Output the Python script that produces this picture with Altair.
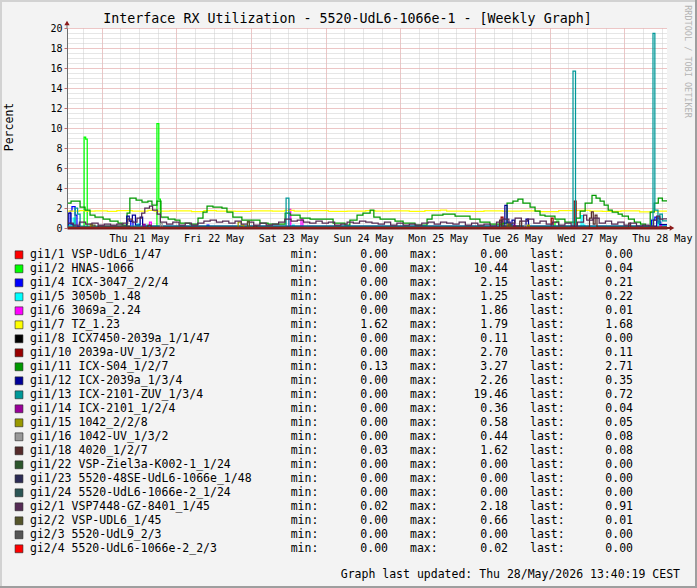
import altair as alt
import pandas as pd
from datetime import datetime, timedelta, timezone

# ---------------- texts ----------------
TITLE = "Interface RX Utilization - 5520-UdL6-1066e-1 - [Weekly Graph]"
UPDATED = "Graph last updated: Thu 28/May/2026 13:40:19 CEST"
WATERMARK = "RRDTOOL / TOBI OETIKER"
Y_TITLE = "Percent"

# ---------------- time frame ----------------
START = "2026-05-20T12:52:00"
END_H = 192.8  # hours shown (until Thu 28 May 13:40)
DAYS = ["2026-05-21", "2026-05-22", "2026-05-23", "2026-05-24",
        "2026-05-25", "2026-05-26", "2026-05-27", "2026-05-28"]
Y_MAJOR = [0, 2, 4, 6, 8, 10, 12, 14, 16, 18, 20]
Y_MINOR = [i * 0.5 for i in range(41)]

# ---------------- legend ----------------
LABELS = ["gi1/1 VSP-UdL6_1/47", "gi1/2 HNAS-1066", "gi1/4 ICX-3047_2/2/4",
          "gi1/5 3050b_1.48", "gi1/6 3069a_2.24", "gi1/7 TZ_1.23",
          "gi1/8 ICX7450-2039a_1/1/47", "gi1/10 2039a-UV_1/3/2", "gi1/11 ICX-S04_1/2/7",
          "gi1/12 ICX-2039a_1/3/4", "gi1/13 ICX-2101-ZUV_1/3/4", "gi1/14 ICX-2101_1/2/4",
          "gi1/15 1042_2/2/8", "gi1/16 1042-UV_1/3/2", "gi1/18 4020_1/2/7",
          "gi1/22 VSP-Ziel3a-K002-1_1/24", "gi1/23 5520-48SE-UdL6-1066e_1/48",
          "gi1/24 5520-UdL6-1066e-2_1/24", "gi2/1 VSP7448-GZ-8401_1/45",
          "gi2/2 VSP-UDL6_1/45", "gi2/3 5520-UdL9_2/3", "gi2/4 5520-UdL6-1066e-2_2/3"]
COLORS = ["#FF0000", "#00FF00", "#0000FF", "#00FFFF", "#FF00FF", "#FFFF00",
          "#000000", "#990000", "#009900", "#000099", "#009999", "#990099",
          "#999900", "#999999", "#552B2B", "#2B552B", "#2B2B55", "#2B5555",
          "#552B55", "#55552B", "#555555", "#FF0000"]
MINS = [0.00, 0.00, 0.00, 0.00, 0.00, 1.62, 0.00, 0.00, 0.13, 0.00, 0.00,
        0.00, 0.00, 0.00, 0.03, 0.00, 0.00, 0.00, 0.02, 0.00, 0.00, 0.00]
MAXS = [0.00, 10.44, 2.15, 1.25, 1.86, 1.79, 0.11, 2.70, 3.27, 2.26, 19.46,
        0.36, 0.58, 0.44, 1.62, 0.00, 0.00, 0.00, 2.18, 0.66, 0.00, 0.02]
LASTS = [0.00, 0.04, 0.21, 0.22, 0.01, 1.68, 0.00, 0.11, 2.71, 0.35, 0.72,
         0.04, 0.05, 0.08, 0.08, 0.00, 0.00, 0.00, 0.91, 0.01, 0.00, 0.00]

# ---------------- series: (hours since start, value) change points ----------------
GI1_1 = [(0, 0.0), (192.8, 0.0)]
GI1_2 = [(0, 0.05), (5.5, 9.1), (6.0, 8.9), (6.5, 0.05), (28.9, 10.44), (29.5, 2.9),
         (30.0, 0.05), (156.8, 0.6), (157.4, 0.7), (158.0, 0.05), (191.0, 0.04), (192.8, 0.04)]
GI1_4 = [(0, 0.4), (1.0, 1.7), (1.6, 2.15), (2.6, 1.3), (3.2, 0.2), (4.0, 0.05),
         (20.5, 0.7), (21.2, 0.1), (45.0, 0.3), (45.6, 0.05), (141.8, 0.6), (142.4, 0.05),
         (187.8, 0.8), (188.9, 1.1), (189.9, 0.6), (190.8, 0.21), (192.8, 0.21)]
GI1_5 = [(0, 0.3), (2.0, 1.0), (2.5, 0.2), (3.0, 0.05), (22.5, 0.4), (23.2, 0.05),
         (25.0, 0.3), (25.6, 0.05), (72.5, 0.3), (73.0, 0.05), (143.0, 0.3), (143.6, 0.05),
         (165.2, 1.25), (165.8, 0.3), (166.4, 0.05), (190.0, 0.5), (190.6, 0.22), (192.8, 0.22)]
GI1_6 = [(0, 0.05), (26.5, 0.6), (27.1, 0.05), (71.3, 1.86), (71.9, 0.1), (75.2, 0.9),
         (75.8, 0.05), (190.5, 0.3), (191.0, 0.01), (192.8, 0.01)]
GI1_7 = [(0, 1.70), (4, 1.75), (6, 1.68), (9, 1.72), (13, 1.66), (16, 1.73), (21, 1.70),
         (26, 1.76), (28, 1.68), (33, 1.72), (40, 1.65), (44, 1.74), (48, 1.70), (54, 1.66),
         (59, 1.72), (66, 1.68), (70, 1.76), (73, 1.70), (78, 1.73), (84, 1.66), (90, 1.70),
         (96, 1.75), (99, 1.69), (104, 1.72), (110, 1.67), (115, 1.74), (120, 1.79),
         (122, 1.70), (128, 1.66), (134, 1.72), (140, 1.68), (146, 1.71), (152, 1.65),
         (158, 1.73), (164, 1.76), (168, 1.70), (172, 1.67), (178, 1.72), (184, 1.62),
         (188, 1.70), (191, 1.68), (192.8, 1.68)]
GI1_8 = [(0, 0.02), (19.5, 0.11), (20.1, 0.02), (140.5, 0.08), (141.1, 0.0),
         (170.0, 0.05), (170.6, 0.0), (192.8, 0.0)]
GI1_10 = [(0, 0.05), (139.5, 1.1), (140.1, 0.1), (155.6, 1.0), (156.2, 0.1),
          (163.0, 2.7), (163.6, 0.1), (191.0, 0.11), (192.8, 0.11)]
GI1_11 = [(0, 2.5), (1.3, 2.7), (4.2, 2.1), (5.8, 1.8), (7.4, 1.3), (9.0, 1.1), (11.6, 0.9),
          (13.8, 0.7), (16.4, 0.5), (17.7, 0.3), (19.3, 1.5), (20.2, 3.0), (22.2, 2.8),
          (24.1, 2.6), (26.0, 2.7), (27.3, 2.3), (28.9, 2.7), (30.2, 1.1), (32.5, 0.9),
          (34.7, 0.8), (36.3, 0.5), (39.5, 0.4), (42.1, 1.0), (43.7, 1.6), (45.0, 2.2),
          (46.9, 2.1), (49.8, 2.0), (51.4, 1.6), (53.3, 1.1), (56.2, 0.8), (62.0, 0.5),
          (64.6, 0.4), (70.1, 1.5), (71.7, 1.3), (74.9, 1.0), (78.1, 0.9), (85.5, 0.5),
          (89.3, 0.3), (90.9, 0.8), (93.2, 1.3), (95.1, 1.5), (97.4, 1.8), (98.6, 1.1),
          (100.6, 0.9), (105.4, 0.7), (108.0, 0.5), (111.8, 0.3), (115.7, 0.9), (117.3, 1.3),
          (120.8, 1.4), (124.7, 1.2), (129.5, 0.9), (132.7, 0.6), (135.9, 0.4), (140.1, 0.5),
          (141.4, 2.5), (143.3, 2.7), (144.9, 2.9), (146.5, 2.5), (148.8, 2.1), (150.4, 1.7),
          (152.0, 1.3), (153.6, 1.2), (156.8, 0.9), (160.0, 0.6), (163.6, 1.0), (164.9, 1.7),
          (166.5, 2.5), (168.7, 3.27), (170.0, 3.0), (171.3, 2.7), (172.6, 2.3), (173.9, 1.8),
          (175.2, 1.6), (177.1, 1.4), (178.4, 1.2), (180.4, 0.9), (182.3, 0.6), (184.3, 0.4),
          (185.9, 0.13), (187.4, 1.6), (188.7, 2.5), (190.0, 3.0), (191.3, 2.71), (192.8, 2.71)]
GI1_12 = [(0, 0.2), (0.4, 1.5), (1.3, 0.4), (2.0, 0.1), (19.2, 1.2), (20.0, 0.7),
          (21.0, 1.3), (22.0, 0.3), (23.5, 1.1), (24.3, 0.2), (140.7, 2.26), (141.4, 0.3),
          (143.0, 0.8), (143.8, 0.2), (147.5, 0.9), (148.3, 0.2), (189.5, 1.0),
          (190.5, 0.35), (192.8, 0.35)]
GI1_13 = [(0, 0.2), (2.6, 2.0), (3.4, 1.4), (4.2, 0.2), (70.4, 3.0), (71.3, 0.2),
          (162.6, 15.7), (163.4, 0.2), (188.3, 19.46), (188.9, 1.8), (189.9, 0.5),
          (190.5, 1.4), (191.3, 0.72), (192.8, 0.72)]
GI1_14 = [(0, 0.02), (24.5, 0.36), (25.1, 0.02), (143.5, 0.3), (144.1, 0.02),
          (190.8, 0.04), (192.8, 0.04)]
GI1_15 = [(0, 0.05), (7.5, 0.4), (8.1, 0.05), (55.0, 0.58), (56.0, 0.3), (56.8, 0.05),
          (141.5, 0.4), (142.1, 0.05), (148.0, 0.3), (148.6, 0.05), (190.8, 0.05), (192.8, 0.05)]
GI1_16 = [(0, 0.05), (30.0, 0.44), (30.6, 0.05), (147.0, 0.3), (147.6, 0.05),
          (190.0, 0.08), (192.8, 0.08)]
GI1_18 = [(0, 0.1), (10, 0.2), (20, 0.1), (26, 0.3), (27, 0.1), (60, 0.2), (61, 0.1),
          (139.0, 0.8), (139.6, 0.2), (145.5, 0.7), (146.1, 0.1), (167.9, 1.0), (168.5, 1.62),
          (169.1, 0.4), (169.7, 1.3), (170.3, 0.1), (180.5, 0.5), (181.1, 0.1),
          (190.0, 0.08), (192.8, 0.08)]
GI1_22 = [(0, 0.0), (192.8, 0.0)]
GI1_23 = [(0, 0.0), (192.8, 0.0)]
GI1_24 = [(0, 0.0), (192.8, 0.0)]
GI2_1 = [(0, 0.5), (2, 0.3), (4, 0.6), (6, 0.4), (8, 0.5), (10, 0.3), (12, 0.4), (14, 0.3),
         (16, 0.4), (18, 0.5), (19.5, 0.9), (21, 0.6), (22.5, 1.0), (24, 1.5), (25, 2.0),
         (26.5, 2.18), (27.5, 1.8), (29, 1.4), (30, 0.6), (32, 0.4), (34, 0.6), (36, 0.3),
         (38, 0.5), (40, 0.3), (42, 0.5), (44, 0.7), (46, 0.8), (48, 0.6), (50, 0.7),
         (52, 0.5), (54, 0.7), (56, 0.4), (58, 0.6), (60, 0.3), (62, 0.5), (64, 0.3),
         (66, 0.4), (68, 0.6), (70, 0.9), (72, 0.7), (74, 0.8), (76, 0.6), (78, 0.5),
         (80, 0.7), (82, 0.5), (84, 0.6), (86, 0.3), (88, 0.4), (90, 0.6), (92, 0.5),
         (94, 0.7), (96, 0.6), (98, 0.5), (100, 0.4), (102, 0.6), (104, 0.3), (106, 0.5),
         (108, 0.3), (110, 0.4), (112, 0.3), (114, 0.5), (116, 0.6), (118, 0.4), (120, 0.6),
         (122, 0.5), (124, 0.4), (126, 0.6), (128, 0.3), (130, 0.5), (132, 0.3), (134, 0.4),
         (136, 0.2), (138, 0.6), (140, 0.9), (142, 0.5), (144, 1.0), (146, 0.7), (148, 0.9),
         (150, 0.5), (152, 0.7), (154, 0.4), (156, 0.6), (158, 0.3), (160, 0.5), (162, 0.2),
         (164, 0.6), (166, 1.3), (167, 0.8), (169, 1.0), (171, 0.5), (173, 0.7), (175, 0.4),
         (177, 0.6), (179, 0.3), (181, 0.5), (183, 0.2), (185, 0.3), (187, 0.2), (188.5, 0.8),
         (189.5, 1.2), (190.5, 0.9), (191.5, 0.91), (192.8, 0.91)]
GI2_2 = [(0, 0.05), (8, 0.3), (9, 0.05), (58, 0.66), (58.6, 0.1), (59.2, 0.05),
         (142, 0.4), (142.6, 0.05), (191, 0.01), (192.8, 0.01)]
GI2_3 = [(0, 0.0), (192.8, 0.0)]
GI2_4 = [(0, 0.0), (100.0, 0.02), (100.6, 0.0), (192.8, 0.0)]

SERIES = [GI1_1, GI1_2, GI1_4, GI1_5, GI1_6, GI1_7, GI1_8, GI1_10, GI1_11, GI1_12,
          GI1_13, GI1_14, GI1_15, GI1_16, GI1_18, GI1_22, GI1_23, GI1_24, GI2_1,
          GI2_2, GI2_3, GI2_4]

# ---------------- helpers ----------------
MONO = "DejaVu Sans Mono"
t0 = datetime.fromisoformat(START).replace(tzinfo=timezone.utc)
t_end = t0 + timedelta(hours=END_H)


def ms(dt):
    return int(dt.timestamp() * 1000)


def at(h):
    return ms(t0 + timedelta(hours=h))


day_dts = [datetime.fromisoformat(d).replace(tzinfo=timezone.utc) for d in DAYS]
MIDNIGHTS = [ms(d) for d in day_dts]
NOONS = [ms(d + timedelta(hours=12)) for d in day_dts]
MINOR_X = []
cur = day_dts[0] - timedelta(hours=6)
while cur <= t_end:
    MINOR_X.append(ms(cur))
    cur += timedelta(hours=6)

xs = alt.Scale(type="utc", domain=[at(0), at(END_H)], nice=False)
ys = alt.Scale(domain=[0, 20], nice=False, zero=False)

GRID_MINOR = "#CDCDCD"
GRID_MAJOR = "#F3A6A6"

ax_x_minor = alt.Axis(orient="bottom", values=MINOR_X, grid=True, gridColor=GRID_MINOR,
                      gridDash=[1, 1], gridWidth=1, labels=False, ticks=False,
                      domain=False, zindex=0)
ax_y_minor = alt.Axis(orient="left", values=Y_MINOR, grid=True, gridColor=GRID_MINOR,
                      gridDash=[1, 1], gridWidth=1, labels=False, ticks=False,
                      domain=False, zindex=0)
ax_x_major = alt.Axis(orient="bottom", values=MIDNIGHTS, grid=True, gridColor=GRID_MAJOR,
                      gridDash=[1, 1], gridWidth=1, labels=False, ticks=False,
                      domain=False, zindex=0)
ax_y_major = alt.Axis(orient="left", values=Y_MAJOR, grid=True, gridColor=GRID_MAJOR,
                      gridDash=[1, 1], gridWidth=1, labels=False, ticks=False,
                      domain=False, zindex=0)
ax_x_lab = alt.Axis(orient="bottom", values=NOONS, grid=False, ticks=False,
                    labelExpr="utcFormat(datum.value, '%a %d %b')", labelFont=MONO,
                    labelFontSize=10, labelColor="#000000", labelPadding=5,
                    labelFlush=False, labelOverlap=False, labelBound=False,
                    domain=True, domainColor="#7A1C1C", domainWidth=2, zindex=1)
ax_y_lab = alt.Axis(orient="left", values=Y_MAJOR, grid=False, ticks=True, tickSize=3,
                    tickColor="#C86A6A", labelFont=MONO, labelFontSize=10,
                    labelColor="#000000", labelPadding=2, labelFlush=False,
                    labelOverlap=False, domain=True, domainColor="#6E6E6E",
                    domainWidth=1, zindex=1)

AXES = {0: (ax_x_minor, ax_y_minor), 1: (ax_x_major, ax_y_major), 2: (ax_x_lab, ax_y_lab)}

layers = []
for i, pts in enumerate(SERIES):
    df = pd.DataFrame({"t": [at(h) for h, _ in pts], "v": [v for _, v in pts]})
    axx, axy = AXES.get(i, (None, None))
    layers.append(
        alt.Chart(df).mark_line(interpolate="step-after", strokeWidth=1.25,
                                color=COLORS[i], clip=True).encode(
            x=alt.X("t:T", scale=xs, axis=axx, title=None),
            y=alt.Y("v:Q", scale=ys, axis=axy, title=None),
        )
    )

# ---------------- legend block ----------------
leg = pd.DataFrame({"row": list(range(len(LABELS))), "label": LABELS, "color": COLORS,
                    "mn": MINS, "mx": MAXS, "last": LASTS})
row_y = alt.Y("row:Q", scale=alt.Scale(domain=[0, 21], range=[226.8, 520.8]), axis=None)
base = alt.Chart(leg)
FS = 11.5
layers.append(base.mark_square(size=62, stroke="#222222", strokeWidth=0.6, opacity=1).encode(
    x=alt.value(-48), y=row_y, fill=alt.Fill("color:N", scale=None)))
layers.append(base.mark_text(align="left", baseline="middle", font=MONO, fontSize=FS,
                             color="#000000").encode(x=alt.value(-37), y=row_y, text="label:N"))
for word, xpos in (("min:", 223.7), ("max:", 343), ("last:", 463)):
    layers.append(base.mark_text(align="left", baseline="middle", font=MONO, fontSize=FS,
                                 color="#000000").encode(x=alt.value(xpos), y=row_y,
                                                         text=alt.value(word)))
for field, xpos in (("mn", 321), ("mx", 441), ("last", 566)):
    layers.append(base.mark_text(align="right", baseline="middle", font=MONO, fontSize=FS,
                                 color="#000000").encode(x=alt.value(xpos), y=row_y,
                                                         text=alt.Text(f"{field}:Q", format=".2f")))

# ---------------- decorations ----------------
one = pd.DataFrame({"k": [0]})


def txt(s, x, y, **kw):
    return alt.Chart(one).mark_text(font=MONO, baseline="middle", **kw).encode(
        x=alt.value(x), y=alt.value(y), text=alt.value(s))


layers.append(txt(TITLE, 280.5, -9.5, fontSize=13.3, align="center", color="#000000"))
layers.append(txt(Y_TITLE, -57, 99, fontSize=11.5, align="center", angle=270, color="#000000"))
layers.append(txt(WATERMARK, 621, 33.5, fontSize=8.5, align="center", angle=90, color="#B4B4B4"))
layers.append(txt(UPDATED, 613, 546.5, fontSize=FS, align="right", color="#000000"))

# axis extensions and arrows
layers.append(alt.Chart(one).mark_rule(color="#6E6E6E", strokeWidth=1).encode(
    x=alt.value(0), y=alt.value(-5), y2=alt.value(0)))
layers.append(alt.Chart(one).mark_rule(color="#7A1C1C", strokeWidth=2).encode(
    x=alt.value(600), x2=alt.value(604), y=alt.value(200)))
layers.append(alt.Chart(one).mark_point(shape="triangle-up", size=28, filled=True, opacity=1,
                                        color="#8B1A1A").encode(x=alt.value(0), y=alt.value(-5)))
layers.append(alt.Chart(one).mark_point(shape="triangle-right", size=28, filled=True, opacity=1,
                                        color="#8B1A1A").encode(x=alt.value(605), y=alt.value(200)))

# frame (3d border)
layers.append(alt.Chart(one).mark_rule(color="#D2D2D2", strokeWidth=2).encode(
    x=alt.value(-67), x2=alt.value(630), y=alt.value(-27)))
layers.append(alt.Chart(one).mark_rule(color="#D2D2D2", strokeWidth=2).encode(
    x=alt.value(-66), y=alt.value(-28), y2=alt.value(560)))
layers.append(alt.Chart(one).mark_rule(color="#9E9E9E", strokeWidth=2).encode(
    x=alt.value(629), y=alt.value(-28), y2=alt.value(560)))
layers.append(alt.Chart(one).mark_rule(color="#9E9E9E", strokeWidth=2).encode(
    x=alt.value(-67), x2=alt.value(630), y=alt.value(559)))

chart = (
    alt.layer(*layers)
    .resolve_scale(y="independent")
    .resolve_axis(x="independent", y="independent")
    .properties(width=600, height=200, autosize="none",
                padding={"left": 67, "top": 28, "right": 30, "bottom": 360},
                background="#F3F3F3")
    .configure_view(fill="#FFFFFF", stroke=None)
)

chart.save("out.html", embed_options={"renderer": "svg", "actions": False})
